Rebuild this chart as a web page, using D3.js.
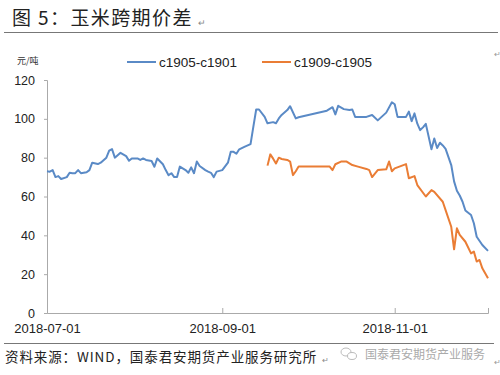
<!DOCTYPE html>
<html><head><meta charset="utf-8">
<script src="https://cdn.jsdelivr.net/npm/d3@7"></script>
<style>body{margin:0;background:#fff}svg{display:block}</style>
</head><body>
<svg id="c" width="500" height="375"></svg>
<script>
const title = "图 5：玉米跨期价差";
const unitLabel = "元/吨";
const source = "资料来源：WIND，国泰君安期货产业服务研究所";
const watermark = "国泰君安期货产业服务";
const seriesNames = ["c1905-c1901", "c1909-c1905"];
const yTicks = [0, 20, 40, 60, 80, 100, 120];
const xTicks = ["2018-07-01", "2018-09-01", "2018-11-01"];

const blueDates = ["2018-07-01","2018-07-02","2018-07-03","2018-07-04","2018-07-05","2018-07-06","2018-07-08","2018-07-09","2018-07-10","2018-07-11","2018-07-12","2018-07-13","2018-07-15","2018-07-16","2018-07-17","2018-07-19","2018-07-20","2018-07-22","2018-07-23","2018-07-24","2018-07-25","2018-07-27","2018-07-29","2018-07-30","2018-07-31","2018-08-02","2018-08-03","2018-08-04","2018-08-05","2018-08-07","2018-08-08","2018-08-09","2018-08-11","2018-08-12","2018-08-13","2018-08-14","2018-08-15","2018-08-16","2018-08-17","2018-08-19","2018-08-20","2018-08-21","2018-08-22","2018-08-23","2018-08-24","2018-08-26","2018-08-27","2018-08-28","2018-08-29","2018-08-30","2018-09-01","2018-09-03","2018-09-04","2018-09-05","2018-09-06","2018-09-07","2018-09-09","2018-09-11","2018-09-12","2018-09-13","2018-09-14","2018-09-16","2018-09-17","2018-09-19","2018-09-20","2018-09-21","2018-09-22","2018-09-24","2018-09-25","2018-09-27","2018-09-28","2018-10-08","2018-10-10","2018-10-11","2018-10-12","2018-10-14","2018-10-16","2018-10-17","2018-10-18","2018-10-22","2018-10-24","2018-10-26","2018-10-29","2018-10-31","2018-11-01","2018-11-02","2018-11-05","2018-11-06","2018-11-07","2018-11-08","2018-11-09","2018-11-10","2018-11-11","2018-11-12","2018-11-14","2018-11-15","2018-11-16","2018-11-17","2018-11-18","2018-11-19","2018-11-21","2018-11-22","2018-11-23","2018-11-24","2018-11-25","2018-11-26","2018-11-28","2018-11-29","2018-11-30","2018-12-02","2018-12-04"];
const blueValues = [73,72.8,73.6,70,70.5,69,70,72.2,72,72,73.6,72,72.5,73.6,77.4,76.7,77.4,80,83.6,84.4,80,82.5,80.8,78.4,79.6,79.6,78.8,79.6,78.8,78.3,75.3,79.6,76.6,73.6,71,72,70,70,75.4,73.6,72.2,75,72,78,75.7,73.6,72.8,72.2,70,72.8,73.6,77.4,83,83,82,84.3,85.7,87,96,104.8,104.8,101,97.7,98.3,97.7,100.2,102,104.5,106.5,100.2,100.8,104.2,106,102.3,106.7,105,104.5,104.8,101,101,102,99.2,103.2,108.5,107.5,101,101,103.7,98.8,102.8,97.5,94.2,95.6,97.4,84.3,89.9,85,87.7,86.3,84.5,76.2,67.8,63,60.5,57.3,52.8,50.5,46.2,39.3,35,32];

const orangeDates = ["2018-09-17","2018-09-18","2018-09-19","2018-09-20","2018-09-21","2018-09-22","2018-09-24","2018-09-25","2018-09-26","2018-09-27","2018-09-28","2018-10-09","2018-10-10","2018-10-11","2018-10-13","2018-10-15","2018-10-17","2018-10-19","2018-10-22","2018-10-23","2018-10-24","2018-10-26","2018-10-29","2018-10-30","2018-10-31","2018-11-01","2018-11-05","2018-11-06","2018-11-08","2018-11-09","2018-11-12","2018-11-14","2018-11-15","2018-11-18","2018-11-19","2018-11-21","2018-11-22","2018-11-23","2018-11-24","2018-11-26","2018-11-28","2018-11-29","2018-11-30","2018-12-01","2018-12-02","2018-12-04"];
const orangeValues = [75.9,81.7,79.5,77,80,79.3,78.8,78,71,73,75.4,75.4,73.6,76.6,78,78,76.2,75.4,74.2,73.6,70,73.6,74,78,73,74.5,76.7,69.4,70.5,65.9,60,63.3,62.4,57.3,53,44.4,32.8,43.6,40.2,36.7,30.7,31.6,26.5,27.3,23,17.9];

const parse = d3.timeParse("%Y-%m-%d");
const svg = d3.select("#c");
const cjk = "'Noto Sans CJK SC', sans-serif";
const latin = "'Liberation Sans', Arial, sans-serif";

const x = d3.scaleTime().domain([parse("2018-07-01"), parse("2018-12-04")]).range([47, 488]);
const y = d3.scaleLinear().domain([0, 120]).range([313, 80]);

// title
svg.append("text").attr("x", 12).attr("y", 25).attr("font-family", cjk)
  .attr("font-size", 19).attr("letter-spacing", 1.4).attr("fill", "#222").text(title);
svg.append("text").attr("x", 198).attr("y", 26).attr("font-family", latin)
  .attr("font-size", 9).attr("fill", "#888").text("↵");
svg.append("line").attr("x1", 4).attr("x2", 498).attr("y1", 32.5).attr("y2", 32.5)
  .attr("stroke", "#777").attr("stroke-width", 1.2);

// unit
svg.append("text").attr("x", 17).attr("y", 64).attr("font-family", cjk)
  .attr("font-size", 9).attr("fill", "#333").text(unitLabel);

// legend
const colors = ["#5a8ac6", "#ea7d35"];
const legX = [127, 262];
seriesNames.forEach((n, i) => {
  svg.append("line").attr("x1", legX[i]).attr("x2", legX[i] + 29).attr("y1", 62).attr("y2", 62)
    .attr("stroke", colors[i]).attr("stroke-width", 2);
  svg.append("text").attr("x", legX[i] + 32).attr("y", 67).attr("font-family", latin)
    .attr("font-size", 13.5).attr("fill", "#222").text(n);
});

// y axis
const yAxis = d3.axisLeft(y).tickValues(yTicks).tickSize(3).tickPadding(9);
const gy = svg.append("g").attr("transform", "translate(47,0)").call(yAxis);
gy.select(".domain").attr("stroke", "#aaa");
gy.selectAll(".tick line").attr("stroke", "#aaa");
gy.selectAll("text").attr("font-family", latin).attr("font-size", 12.5).attr("fill", "#222");

// x axis
const xAxis = d3.axisBottom(x).tickValues(xTicks.map(parse)).tickSize(-5)
  .tickFormat(d3.timeFormat("%Y-%m-%d")).tickPadding(11);
const gx = svg.append("g").attr("transform", "translate(0,313)").call(xAxis);
gx.select(".domain").attr("stroke", "#aaa");
gx.selectAll(".tick line").attr("stroke", "#aaa");
gx.selectAll("text").attr("font-family", latin).attr("font-size", 13).attr("fill", "#222");

// lines
const line = d3.line().x(d => x(d[0])).y(d => y(d[1]));
const blue = blueDates.map((d, i) => [parse(d), blueValues[i]]);
const orange = orangeDates.map((d, i) => [parse(d), orangeValues[i]]);
svg.append("path").datum(blue).attr("d", line).attr("fill", "none")
  .attr("stroke", colors[0]).attr("stroke-width", 2).attr("stroke-linejoin", "round");
svg.append("path").datum(orange).attr("d", line).attr("fill", "none")
  .attr("stroke", colors[1]).attr("stroke-width", 2).attr("stroke-linejoin", "round");

// bottom rule and source
svg.append("line").attr("x1", 4).attr("x2", 494).attr("y1", 343.5).attr("y2", 343.5)
  .attr("stroke", "#777").attr("stroke-width", 1.2);
svg.append("text").attr("x", 5).attr("y", 362).attr("font-family", cjk)
  .attr("font-size", 13.5).attr("letter-spacing", 0.9).attr("fill", "#222").text(source);
svg.append("text").attr("x", 322).attr("y", 363).attr("font-family", latin)
  .attr("font-size", 8).attr("fill", "#888").text("↵");

// watermark
const wm = svg.append("g").attr("fill", "none").attr("stroke", "#bbb").attr("stroke-width", 1);
wm.append("ellipse").attr("cx", 346).attr("cy", 352).attr("rx", 5).attr("ry", 4);
wm.append("ellipse").attr("cx", 352).attr("cy", 356).attr("rx", 4.5).attr("ry", 3.5).attr("fill", "#fff");
svg.append("text").attr("x", 365).attr("y", 359).attr("font-family", cjk)
  .attr("font-size", 12).attr("fill", "#aaa").text(watermark);
svg.append("text").attr("x", 494).attr("y", 365).attr("font-family", latin)
  .attr("font-size", 8).attr("fill", "#999").text("↵");
svg.append("text").attr("x", 494).attr("y", 57).attr("font-family", latin)
  .attr("font-size", 8).attr("fill", "#999").text("↵");
</script>
</body></html>
